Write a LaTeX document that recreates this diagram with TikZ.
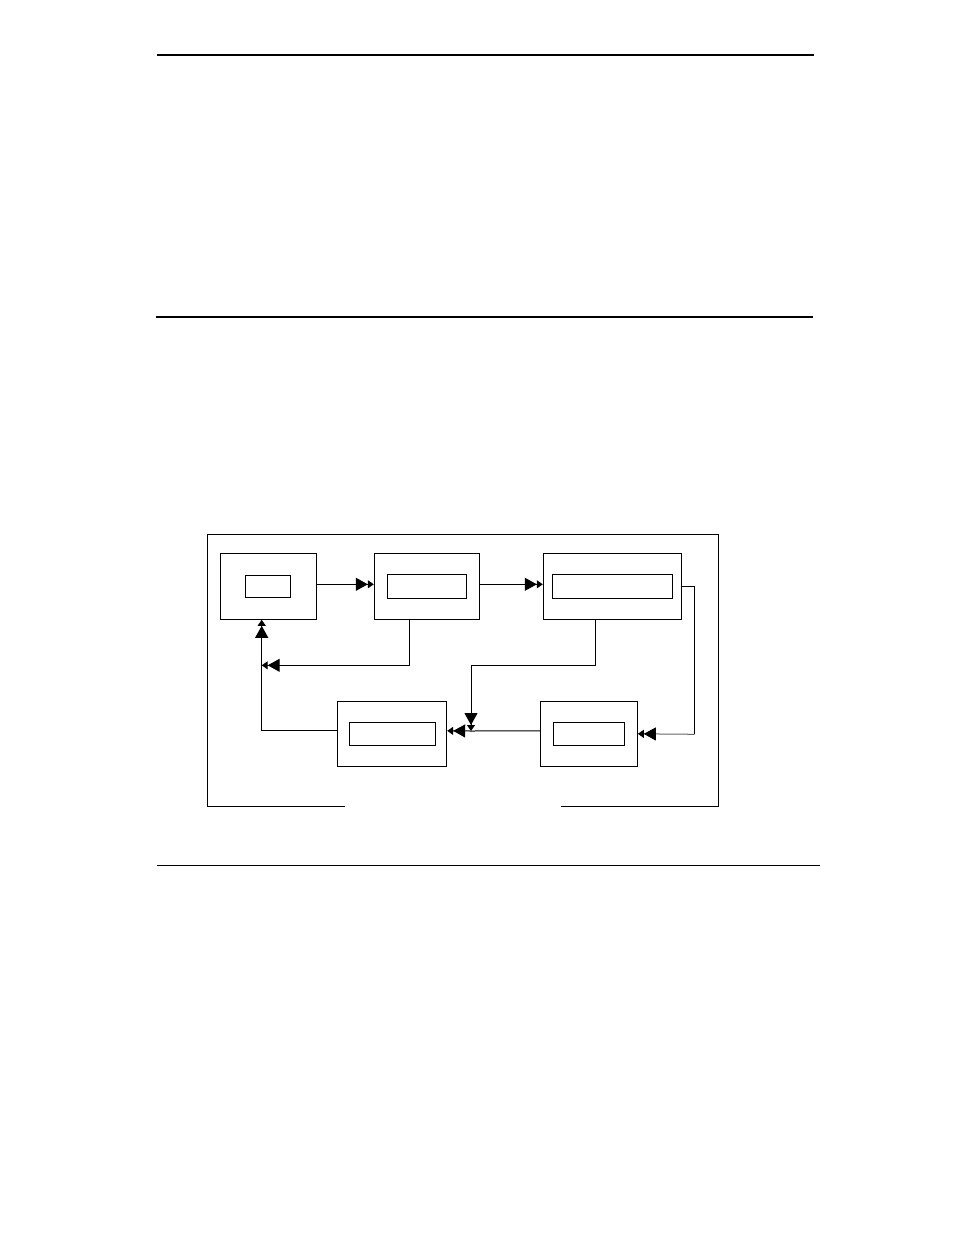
\documentclass[tikz,border=0pt]{standalone}
\usetikzlibrary{arrows.meta}

\tikzset{
  outerbox/.style={draw, line width=1pt, inner sep=0pt},
  innerbox/.style={draw, line width=1pt, inner sep=0pt},
  dbl/.style={line width=1pt, -{Triangle[length=12pt,width=13pt,color=black]Triangle[length=6pt,width=8pt,color=black]}},
  wire/.style={line width=1pt},
  pagerule/.style={line width=1.4pt}
}

\begin{document}
\begin{tikzpicture}[x=1pt,y=-1pt]
  \useasboundingbox (0,0) rectangle (954,1235);

  % Page rules
  \draw[pagerule] (157.3,55) -- (814.3,55);
  \draw[pagerule] (156,317) -- (813.3,317);
  \draw[pagerule] (157.3,865.3) -- (819.7,865.3);

  % Frame round the diagram, open at the bottom
  \draw[wire] (345,806.7) -- (207.3,806.7) -- (207.3,534.3)
    -- (718.3,534.3) -- (718.3,806.7) -- (560.7,806.7);

  % Top row
  \node[outerbox, minimum width=96pt, minimum height=66pt] (A) at (268.3,586.3) {};
  \node[innerbox, minimum width=45pt, minimum height=22pt] (Ain) at (A.center) {};
  \node[outerbox, minimum width=105pt, minimum height=66pt] (B) at (426.8,586.3) {};
  \node[innerbox, minimum width=79.4pt, minimum height=24pt] (Bin) at (B.center) {};
  \node[outerbox, minimum width=138pt, minimum height=66pt] (C) at (612.3,586.3) {};
  \node[innerbox, minimum width=120pt, minimum height=24pt] (Cin) at (C.center) {};

  % Bottom row
  \node[outerbox, minimum width=109.4pt, minimum height=65pt] (D) at (392,733.8) {};
  \node[innerbox, minimum width=86pt, minimum height=23pt] (Din) at (D.center) {};
  \node[outerbox, minimum width=97pt, minimum height=65pt] (E) at (588.8,733.8) {};
  \node[innerbox, minimum width=71pt, minimum height=23pt] (Ein) at (E.center) {};

  % Turning points
  \coordinate (fbA) at (261.7,665.3);
  \coordinate (bend) at (471,665.3);
  \coordinate (junction) at (471,731);
  \coordinate (turn) at (694.7,734.3);

  % Connectors
  \draw[dbl] ([yshift=2pt]A.east) -- ([yshift=2pt]B.west);
  \draw[dbl] ([yshift=2pt]B.east) -- ([yshift=2pt]C.west);
  \draw[dbl] ([xshift=-17.5pt]B.south) |- (fbA);
  \draw[dbl] ([xshift=-17pt]C.south) |- (bend) -- (junction);
  \draw[wire] (C.east) -| (turn);
  \draw[dbl, black!60] (turn) -- (E.east);
  \draw[wire] ([yshift=3pt]E.west) -- (junction);
  \draw[dbl] (junction) -- ([yshift=3pt]D.east);
  \draw[dbl] ([yshift=3pt]D.west) -| ([xshift=-6.6pt]A.south);
\end{tikzpicture}
\end{document}
